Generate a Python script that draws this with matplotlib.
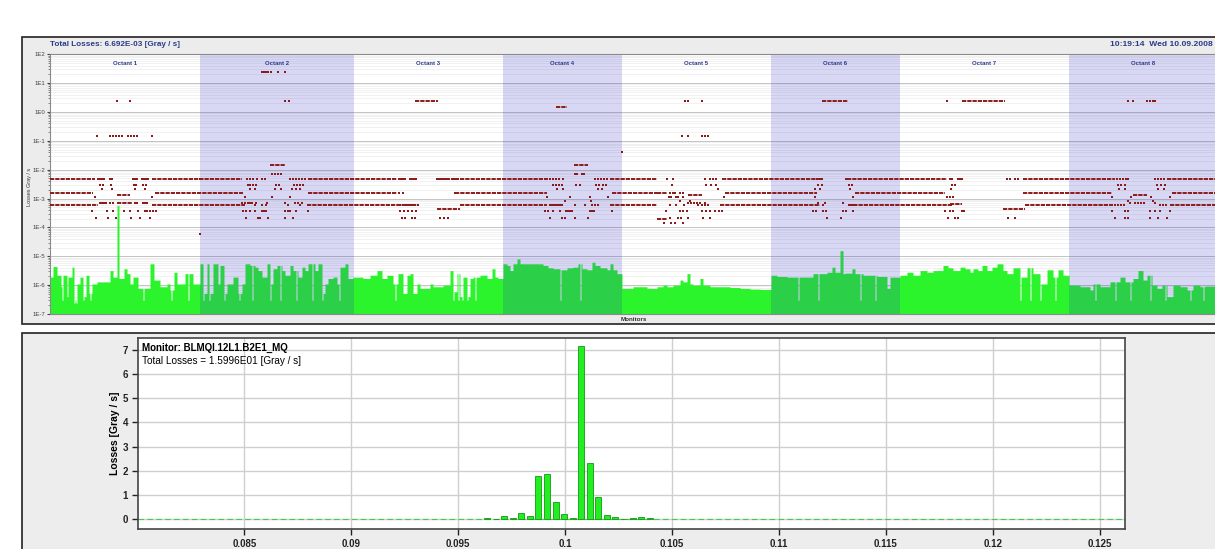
import numpy as np
import matplotlib
matplotlib.use("Agg")
import matplotlib.pyplot as plt
from matplotlib.patches import Rectangle
from matplotlib.ticker import LogLocator, NullFormatter, FuncFormatter
import matplotlib.transforms as mtrans

plt.rcParams['font.family'] = ['Liberation Sans', 'DejaVu Sans']

W, H = 1215, 549

# ---------------- top panel: losses along the ring ----------------
# monitor slot position is an unlabelled axis, slots 50..1218
octant_names = ["Octant 1", "Octant 2", "Octant 3", "Octant 4",
                "Octant 5", "Octant 6", "Octant 7", "Octant 8"]
octant_edges = [50, 200, 354, 503, 622, 771, 900, 1069, 1218]
octant_shaded = [False, True, False, True, False, True, False, True]

# rows of monitors sitting on the same value: (first slot, last slot, Gy/s)
row_runs = [
    # 4.6e-3 row
    (50, 95, 4.6e-3), (152, 242, 4.6e-3), (308, 397, 4.6e-3), (460, 548, 4.6e-3),
    (610, 657, 4.6e-3), (722, 823, 4.6e-3), (847, 947, 4.6e-3), (1023, 1115, 4.6e-3),
    (1167, 1218, 4.6e-3),
    # 1.6e-3 row
    (50, 93, 1.6e-3), (155, 243, 1.6e-3), (308, 397, 1.6e-3), (455, 547, 1.6e-3),
    (612, 657, 1.6e-3), (725, 817, 1.6e-3), (855, 945, 1.6e-3), (1023, 1112, 1.6e-3),
    (1172, 1218, 1.6e-3),
    # 5.8e-4 row
    (50, 98, 5.8e-4), (152, 245, 5.8e-4), (307, 418, 5.8e-4), (460, 547, 5.8e-4),
    (610, 657, 5.8e-4), (720, 820, 5.8e-4), (848, 953, 5.8e-4), (1025, 1113, 5.8e-4),
    (1170, 1218, 5.8e-4),
    # short groups
    (270, 285, 1.45e-2), (574, 588, 1.45e-2),
    (117, 130, 1.3e-3), (688, 702, 1.3e-3), (1133, 1147, 1.3e-3),
    (117, 132, 7.2e-4), (950, 962, 6.5e-4),
    (437, 460, 4.2e-4), (1003, 1025, 4.2e-4),
    (657, 667, 1.5e-3), (657, 667, 2.0e-4),
    (415, 438, 2.4), (556, 567, 1.5), (822, 848, 2.4), (962, 1005, 2.4),
]

# single monitors, grouped by value
dot_levels = [24.5, 2.4, 0.148, 0.04, 7e-3, 4.6e-3, 3.0e-3, 2.1e-3, 1.6e-3,
              1.15e-3, 8.5e-4, 7.2e-4, 5.8e-4, 3.7e-4, 2.1e-4, 1.4e-4, 6e-5]
dot_slots = [
    [262, 264, 266, 268, 271, 278, 285],
    [117, 130, 285, 289, 685, 688, 702, 947, 1128, 1133, 1147, 1150, 1153, 1155],
    [97, 110, 113, 116, 119, 122, 128, 131, 134, 137, 152, 682, 688, 702, 705, 708],
    [622],
    [272, 275, 278, 281, 575, 577, 582, 584],
    [98, 100, 102, 104, 110, 112, 133, 135, 137, 142, 144, 146, 148, 200, 247, 250,
     253, 257, 262, 265, 290, 293, 296, 299, 302, 305, 399, 401, 403, 405, 410, 412,
     414, 416, 437, 439, 441, 443, 445, 447, 449, 452, 454, 456, 458, 550, 553, 556,
     559, 563, 595, 598, 601, 604, 607, 667, 673, 705, 710, 713, 716, 817, 820, 822,
     846, 950, 952, 958, 960, 962, 1007, 1010, 1015, 1018, 1117, 1120, 1123, 1126,
     1128, 1155, 1158, 1161, 1164],
    [100, 103, 111, 134, 136, 143, 146, 248, 250, 253, 256, 276, 279, 294, 297, 300,
     303, 553, 556, 559, 562, 576, 580, 596, 599, 603, 606, 672, 706, 711, 716, 818,
     822, 849, 852, 952, 955, 1118, 1121, 1125, 1157, 1161, 1165],
    [102, 112, 135, 145, 250, 255, 275, 281, 292, 296, 300, 557, 563, 598, 602, 718,
     815, 820, 850, 951, 1119, 1125, 1158, 1164],
    [399, 403, 455, 670, 673, 675, 680, 683],
    [95, 152, 245, 272, 290, 547, 570, 590, 608, 669, 671, 676, 678, 683, 724, 815,
     853, 947, 950, 953, 1112, 1131, 1151, 1170],
    [565, 591, 680, 690, 1128, 1153],
    [100, 102, 104, 106, 110, 113, 135, 137, 143, 145, 147, 242, 245, 248, 250, 252,
     256, 267, 285, 295, 298, 302, 688, 691, 694, 697, 700, 705, 818, 825, 843, 1130,
     1135, 1138, 1141, 1144, 1155],
    [244, 255, 262, 266, 288, 300, 400, 403, 406, 409, 412, 415, 418, 550, 552, 554,
     556, 558, 560, 562, 575, 585, 592, 595, 598, 670, 676, 684, 698, 702, 705, 708,
     823, 850, 853, 1115, 1118, 1121, 1124, 1160, 1163, 1166],
    [92, 107, 113, 124, 130, 138, 145, 147, 150, 153, 156, 243, 246, 250, 255, 262,
     264, 266, 285, 288, 290, 296, 308, 400, 404, 408, 412, 416, 545, 548, 553, 560,
     566, 568, 570, 572, 590, 592, 594, 612, 666, 680, 683, 687, 702, 706, 710, 715,
     719, 722, 813, 816, 823, 826, 843, 846, 853, 945, 950, 953, 962, 964, 1112, 1125,
     1128, 1150, 1155, 1160, 1170],
    [96, 108, 116, 131, 140, 150, 246, 258, 260, 268, 285, 293, 402, 405, 412, 415,
     440, 444, 448, 550, 562, 565, 575, 588, 670, 678, 681, 688, 703, 710, 827, 841,
     948, 955, 958, 1008, 1015, 1115, 1125, 1128, 1150, 1158, 1167],
    [664, 671, 675, 683],
    [200],
]

# green loss profile: value holds from each start slot to the next one
green_start = [
    50, 53, 57, 61, 63, 67, 68, 72, 74, 77, 80, 83, 86, 89, 92, 97, 110, 113, 117, 119,
    124, 127, 130, 133, 138, 150, 154, 160, 167, 170, 174, 177, 185, 193,
    200, 204, 207, 210, 213, 218, 220, 224, 227, 233, 238, 242, 245, 250, 255, 258,
    262, 267, 270, 273, 277, 282, 285, 290, 293, 298, 302, 305, 308, 315, 318, 322,
    325, 328, 333, 337, 340, 345, 348,
    353, 363, 370, 377, 382, 387, 393, 398, 403, 407, 410, 413, 417, 420, 430, 433,
    443, 450, 453, 457, 460, 463, 467, 470, 473, 480, 487, 492, 495, 498,
    503, 507, 510, 513, 517, 520, 543, 548, 553, 560, 567, 573, 578, 582, 587, 592,
    595, 600, 607, 610, 613, 617,
    622, 633, 647, 657, 663, 667, 673, 680, 683, 687, 690, 693, 700, 703, 710, 730,
    740, 750, 760,
    771, 777, 787, 813, 827, 832, 835, 840, 843, 845, 852, 855, 863, 877, 887, 890,
    900, 907, 913, 920, 927, 933, 943, 948, 953, 960, 965, 970, 973, 978, 982, 987,
    992, 997, 1003, 1007, 1013, 1020, 1027, 1033, 1040, 1047, 1053, 1058, 1063,
    1069, 1080, 1090, 1093, 1100, 1110, 1120, 1125, 1133, 1138, 1143, 1147, 1152,
    1157, 1162, 1167, 1173, 1180, 1187, 1193, 1200, 1205,
]
green_level = [
    1.9e-6, 4.4e-6, 2.2e-6, 8.8e-7, 2.2e-6, 4e-7, 1.9e-6, 4.2e-6, 2.4e-7, 1.1e-6,
    1.9e-6, 4e-7, 2.2e-6, 5.2e-7, 1.1e-6, 1.3e-6, 3.2e-6, 1.9e-6, 5.8e-4, 1.7e-6,
    3.7e-6, 2.5e-6, 1.1e-6, 1.9e-6, 7.7e-7, 5.5e-6, 1.5e-6, 8.8e-7, 1.1e-6, 6.8e-7,
    2.8e-6, 1.1e-6, 2.5e-6, 1.1e-6,
    5.5e-6, 5.2e-7, 5.5e-6, 5.2e-7, 5.5e-6, 1.1e-6, 4.8e-6, 5.2e-7, 1.1e-6, 1.9e-6,
    5.2e-7, 1.1e-6, 5.5e-6, 4.8e-6, 4.2e-6, 3.2e-6, 1.9e-6, 5.5e-6, 1.1e-6, 3.7e-6,
    4.8e-6, 3.2e-6, 2.2e-6, 4.8e-6, 3.2e-6, 1.9e-6, 4.2e-6, 3.2e-6, 5.5e-6, 3.2e-6,
    5.5e-6, 5.2e-7, 1.1e-6, 1.7e-6, 1.9e-6, 1.1e-6, 4.2e-6, 5.5e-6, 1.7e-6,
    1.9e-6, 1.7e-6, 2.2e-6, 3.2e-6, 1.7e-6, 2.2e-6, 1.1e-6, 2.5e-6, 5.2e-7, 2.2e-6,
    2.5e-6, 5.2e-7, 1.1e-6, 7.7e-7, 1.1e-6, 8.8e-7, 1.0e-6, 3.2e-6, 5.9e-7, 2.5e-6,
    4e-7, 1.9e-6, 4e-7, 1.7e-6, 1.9e-6, 2.2e-6, 1.7e-6, 3.7e-6, 1.9e-6, 1.7e-6,
    5.5e-6, 4.8e-6, 3.2e-6, 5.5e-6, 8.1e-6, 5.5e-6, 4.8e-6, 4.0e-6, 3.7e-6, 3.4e-6,
    4.0e-6, 4.2e-6, 5.5e-6, 3.7e-6, 3.4e-6, 6.2e-6, 4.8e-6, 4.0e-6, 3.4e-6, 5.5e-6,
    3.4e-6, 2.5e-6,
    7.7e-7, 8.8e-7, 7.7e-7, 8.8e-7, 1.0e-6, 8.8e-7, 1.0e-6, 1.5e-6, 1.3e-6, 2.5e-6,
    1.1e-6, 1.0e-6, 1.7e-6, 1.0e-6, 8.8e-7, 8.3e-7, 7.7e-7, 7.3e-7, 7.1e-7,
    2.2e-6, 2.0e-6, 1.9e-6, 2.5e-6, 2.8e-6, 4.2e-6, 2.8e-6, 1.56e-5, 2.5e-6, 2.6e-6,
    3.7e-6, 2.5e-6, 2.2e-6, 2.0e-6, 7.7e-7, 1.9e-6,
    2.2e-6, 2.8e-6, 2.2e-6, 3.2e-6, 2.8e-6, 3.2e-6, 4.8e-6, 4.0e-6, 3.2e-6, 4.2e-6,
    3.7e-6, 2.8e-6, 3.7e-6, 3.2e-6, 4.8e-6, 3.2e-6, 4.2e-6, 5.5e-6, 3.2e-6, 2.5e-6,
    4.0e-6, 1.9e-6, 4.0e-6, 2.5e-6, 1.1e-6, 3.4e-6, 1.9e-6, 3.4e-6, 2.2e-6,
    1.0e-6, 8.8e-7, 6.8e-7, 1.1e-6, 8.8e-7, 1.3e-6, 1.9e-6, 1.3e-6, 1.7e-6, 3.2e-6,
    1.5e-6, 2.2e-6, 1.0e-6, 7.7e-7, 1.0e-6, 4.0e-7, 1.0e-6, 8.8e-7, 6.8e-7, 1.0e-6,
    8.8e-7, 9.2e-7,
]
# narrow low monitors (white gaps in the green)
green_dips = [62, 75, 83, 90, 143, 171, 188, 203, 209, 224, 239, 252, 270, 280, 296,
              312, 322, 339, 395, 453, 458, 462, 467, 475, 560, 580, 798, 818, 860,
              875, 1020, 1030, 1040, 1055, 1095, 1115, 1130, 1150, 1165, 1190, 1203]
dip_level = 3e-7

# ---------------- bottom panel: one monitor vs time ----------------
bin_time = [0.09635, 0.09675, 0.09715, 0.09755, 0.09795, 0.09835, 0.09875, 0.09915,
            0.09955, 0.09995, 0.10035, 0.10075, 0.10115, 0.10155, 0.10195, 0.10235,
            0.10275, 0.10315, 0.10355, 0.10395]
bin_loss = [0.07, 0.03, 0.14, 0.06, 0.26, 0.15, 1.79, 1.86, 0.70, 0.23,
            0.06, 7.15, 2.34, 0.94, 0.19, 0.08, 0.03, 0.07, 0.11, 0.04]
time_ticks = [0.085, 0.09, 0.095, 0.1, 0.105, 0.11, 0.115, 0.12, 0.125]
time_labels = ["0.085", "0.09", "0.095", "0.1", "0.105", "0.11", "0.115", "0.12", "0.125"]


def fx(x):
    return x / W


def fy(y):
    return 1 - y / H


navy = '#2b3c87'
dred = '#8b1a1a'

fig = plt.figure(figsize=(W / 100, H / 100), dpi=100)
fig.patch.set_facecolor('white')

# panel frames
fig.add_artist(Rectangle((fx(22), fy(324)), fx(1260) - fx(22), fy(37) - fy(324),
                         transform=fig.transFigure, facecolor='#ececec',
                         edgecolor='#222222', lw=1.2, zorder=-1))
fig.add_artist(Rectangle((fx(22), fy(580)), fx(1260) - fx(22), fy(333) - fy(580),
                         transform=fig.transFigure, facecolor='#ededed',
                         edgecolor='#222222', lw=1.2, zorder=-1))

# ---- top plot ----
ax1 = fig.add_axes([fx(50), fy(314), fx(1218) - fx(50), fy(54.3) - fy(314)])
ax1.set_facecolor('white')
ax1.set_yscale('log')
ax1.set_ylim(1e-7, 1e2)
ax1.set_xlim(octant_edges[0], octant_edges[-1])
ax1.set_axisbelow(True)

ax1.yaxis.set_major_locator(LogLocator(base=10, numticks=20))
ax1.yaxis.set_minor_locator(LogLocator(base=10, subs=np.arange(2, 10), numticks=20))
ax1.yaxis.set_major_formatter(FuncFormatter(lambda v, p: "1E%d" % round(np.log10(v))))
ax1.yaxis.set_minor_formatter(NullFormatter())
ax1.grid(which='major', axis='y', color='#c4c4c4', lw=0.7)
ax1.grid(which='minor', axis='y', color='#ebebeb', lw=0.5)
ax1.set_xticks([])
ax1.tick_params(axis='y', which='major', labelsize=4.3, length=2.5, pad=1,
                colors='#444444')
ax1.tick_params(axis='y', which='minor', length=1.2, colors='#777777')
for s in ax1.spines.values():
    s.set_color('#8a8a8a')
    s.set_linewidth(0.8)

slots = np.arange(octant_edges[0], octant_edges[-1] + 1)
idx = np.searchsorted(green_start, slots, side='right') - 1
green = np.array(green_level)[idx]
green[np.isin(slots, green_dips)] = dip_level
ax1.fill_between(slots, 1e-7, green, step='post', color='#2cf42c', lw=0, zorder=1)

for i in range(8):
    a, b = octant_edges[i], octant_edges[i + 1]
    if octant_shaded[i]:
        ax1.axvspan(a, b, color=(40 / 255, 40 / 255, 200 / 255), alpha=0.18, lw=0,
                    zorder=2)
    ax1.text((a + b) / 2, 0.966, octant_names[i], transform=mtrans.blended_transform_factory(
        ax1.transData, ax1.transAxes), ha='center', va='center', fontsize=4.3,
        weight='bold', color=navy, zorder=5)

for x0, x1, v in row_runs:
    ax1.hlines(v, x0, x1, colors=dred, lw=1.4, linestyles=(0, (2.2, 0.5)), zorder=3)
for v, xs in zip(dot_levels, dot_slots):
    ax1.plot(xs, [v] * len(xs), 's', ms=1.6, mew=0, color=dred, zorder=3)

fig.text(fx(50), fy(44.5), "Total Losses: 6.692E-03 [Gray / s]", fontsize=5.9,
         weight='bold', color=navy, va='center')
fig.text(fx(1213), fy(44.5), "10:19:14  Wed 10.09.2008", fontsize=6.1,
         weight='bold', color=navy, va='center', ha='right')
fig.text(fx(30), fy(187), "Losses Gray / s", rotation=90, fontsize=4, ha='center',
         va='center', color='#333333')
fig.text(fx(634), fy(319.5), "Monitors", fontsize=4.5, weight='bold', ha='center',
         va='center', color='#333333')

# ---- bottom plot ----
ax2 = fig.add_axes([fx(137.7), fy(529), fx(1125) - fx(137.7), fy(337.7) - fy(529)])
ax2.set_facecolor('white')
ax2.set_xlim(0.08001, 0.12618)
ax2.set_ylim(-0.4, 7.5)
ax2.set_axisbelow(True)
ax2.axhline(0, color='#44cc44', lw=0.8, ls=(0, (5, 3)), zorder=2)
ax2.bar(bin_time, bin_loss, width=0.00028, color='#22ee22', edgecolor='#119911',
        lw=0.6, zorder=3)
ax2.set_xticks(time_ticks)
ax2.set_xticklabels(time_labels)
ax2.set_yticks(range(8))
ax2.grid(True, color='#cfcfcf', lw=1)
ax2.tick_params(labelsize=7, length=4, width=1, colors='#222222', pad=3)
for lab in ax2.get_xticklabels() + ax2.get_yticklabels():
    lab.set_fontweight('bold')
for s in ax2.spines.values():
    s.set_color('#444444')
    s.set_linewidth(1.2)
ax2.set_ylabel("Losses [Gray / s]", fontsize=7.5, weight='bold', labelpad=2)

ax2.text(0.004, 0.975, "Monitor: BLMQI.12L1.B2E1_MQ", transform=ax2.transAxes,
         fontsize=7, weight='bold', va='top', ha='left')
ax2.text(0.004, 0.905, "Total Losses = 1.5996E01 [Gray / s]", transform=ax2.transAxes,
         fontsize=7.2, va='top', ha='left')

fig.savefig("out.png", dpi=100)
